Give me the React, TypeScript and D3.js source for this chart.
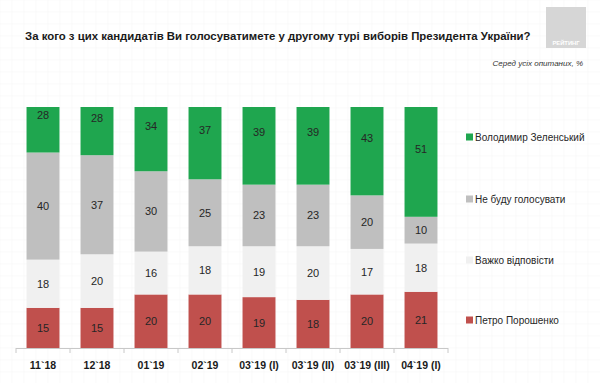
import React from "react";
import * as d3 from "d3";

const categories = ["11`18", "12`18", "01`19", "02`19", "03`19 (I)", "03`19 (II)", "03`19 (III)", "04`19 (I)"];
const poroshenko = [15, 15, 20, 20, 19, 18, 20, 21];
const hardToSay = [18, 20, 16, 18, 19, 20, 17, 18];
const wontVote = [40, 37, 30, 25, 23, 23, 20, 10];
const zelensky = [28, 28, 34, 37, 39, 39, 43, 51];

const seriesNames = ["Петро Порошенко", "Важко відповісти", "Не буду голосувати", "Володимир Зеленський"];
const seriesValues = [poroshenko, hardToSay, wontVote, zelensky];
const seriesColors = ["#c0504d", "#f0f0f0", "#bfbfbf", "#1fa64f"];
const legendY = [320, 260, 199, 137];

const W = 600;
const H = 383;
const baseY = 348;
const topY = 107;

export default function App() {
  const x = d3.scaleBand<string>().domain(categories).range([16, 448]).paddingInner(0.39).paddingOuter(0.195);
  const y = d3.scaleLinear().domain([0, 90]).range([baseY, topY]);

  const rows = categories.map((c, i) => {
    const r: any = { cat: c };
    seriesNames.forEach((s, k) => (r[s] = seriesValues[k][i]));
    return r;
  });
  const stacked = d3.stack<any>().keys(seriesNames)(rows);

  const gridLinesX = d3.range(0, W, 12);
  const gridLinesY = d3.range(0, H, 12);

  return (
    <div style={{ position: "absolute", left: 0, top: 0 }}>
      <svg width={W} height={H} style={{ display: "block", fontFamily: "'Liberation Sans', Arial, sans-serif" }}>
        <rect x={0} y={0} width={W} height={H} fill="#ffffff" />
        <g stroke="#f6f6f6" strokeWidth={0.6}>
          {gridLinesX.map((gx) => (
            <line key={"gx" + gx} x1={gx} x2={gx} y1={0} y2={H} />
          ))}
          {gridLinesY.map((gy) => (
            <line key={"gy" + gy} x1={0} x2={W} y1={gy} y2={gy} />
          ))}
        </g>
        <text x={25} y={40} fontSize={11.4} fontWeight="bold" fill="#1a1a1a">
          За кого з цих кандидатів Ви голосуватимете у другому турі виборів Президента України?
        </text>
        <rect x={546} y={7} width={40} height={41} fill="#d6d6d6" />
        <text x={566} y={45} fontSize={5.8} fontWeight="bold" fill="#ffffff" textAnchor="middle">
          РЕЙТИНГ
        </text>
        <text x={583} y={66} fontSize={8} fontStyle="italic" fill="#333" textAnchor="end">
          Серед усіх опитаних, %
        </text>
        <defs>
          <clipPath id="plotClip">
            <rect x={0} y={topY} width={W} height={baseY - topY} />
          </clipPath>
        </defs>
        <g clipPath="url(#plotClip)">
          {stacked.map((layer, k) =>
            layer.map((d, i) => (
              <rect
                key={k + "-" + i}
                x={x(categories[i])}
                y={y(d[1])}
                width={x.bandwidth()}
                height={y(d[0]) - y(d[1])}
                fill={seriesColors[k]}
              />
            ))
          )}
        </g>
        {stacked.map((layer, k) =>
          layer.map((d, i) => (
            <text
              key={"t" + k + "-" + i}
              x={(x(categories[i]) as number) + x.bandwidth() / 2}
              y={(y(d[0]) + y(d[1])) / 2 + 4}
              fontSize={11}
              fill="#262626"
              textAnchor="middle"
            >
              {seriesValues[k][i]}
            </text>
          ))
        )}
        <line x1={16} x2={448} y1={baseY + 0.5} y2={baseY + 0.5} stroke="#c8c8c8" strokeWidth={1} />
        {d3.range(categories.length + 1).map((i) => {
          const tx = 16 + i * x.step();
          return <line key={"tk" + i} x1={tx} x2={tx} y1={baseY} y2={baseY + 5} stroke="#c8c8c8" strokeWidth={1} />;
        })}
        {categories.map((c) => (
          <text
            key={"xl" + c}
            x={(x(c) as number) + x.bandwidth() / 2}
            y={369}
            fontSize={10.5}
            fontWeight="bold"
            fill="#1a1a1a"
            textAnchor="middle"
          >
            {c}
          </text>
        ))}
        {seriesNames.map((s, k) => (
          <g key={"lg" + k}>
            <rect x={466} y={legendY[k] - 3.5} width={7} height={7} fill={seriesColors[k]} />
            <text x={475} y={legendY[k] + 4} fontSize={10} fill="#262626">
              {s}
            </text>
          </g>
        ))}
      </svg>
    </div>
  );
}
